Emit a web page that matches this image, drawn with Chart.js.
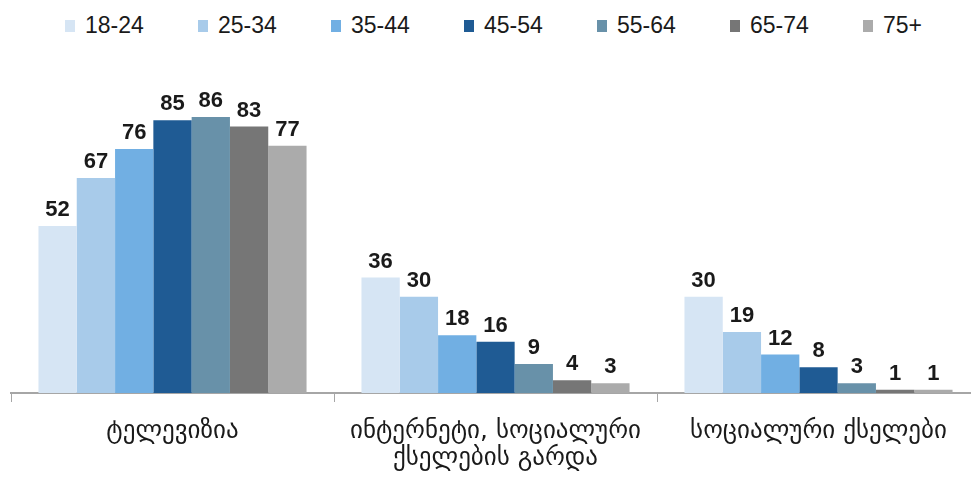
<!DOCTYPE html>
<html lang="ka">
<head>
    <meta charset="UTF-8">
    <title>Media by age</title>
    <script src="https://cdn.jsdelivr.net/npm/chart.js"></script>
    <style>
        body {
            margin: 0;
            width: 971px;
            height: 477px;
            overflow: hidden;
            background: #fff;
            position: relative;
        }
        #legend {
            position: absolute;
            top: 12px;
            left: 65px;
            display: flex;
            font-family: "Liberation Sans Narrow", "Liberation Sans", sans-serif;
            font-size: 23px;
            color: #1a1a1a;
        }
        #legend .item {
            width: 133px;
            display: flex;
            align-items: center;
        }
        #legend .box {
            width: 10px;
            height: 12px;
            margin-right: 10px;
        }
        .chart-wrap {
            position: absolute;
            top: 50px;
            left: 0;
            width: 982px;
            height: 427px;
        }
    </style>
</head>
<body>
    <div id="legend"></div>
    <div class="chart-wrap">
        <canvas id="mediaChart"></canvas>
    </div>

    <script>
        // categories and series
        const categories = [
            'ტელევიზია',
            ['ინტერნეტი, სოციალური', 'ქსელების გარდა'],
            'სოციალური ქსელები'
        ];
        const ageGroups = ['18-24', '25-34', '35-44', '45-54', '55-64', '65-74', '75+'];
        const values = [
            [52, 36, 30],   // 18-24
            [67, 30, 19],   // 25-34
            [76, 18, 12],   // 35-44
            [85, 16, 8],    // 45-54
            [86, 9, 3],     // 55-64
            [83, 4, 1],     // 65-74
            [77, 3, 1]      // 75+
        ];
        const colors = ['#d6e5f4', '#a8cbea', '#71afe3', '#1f5b94', '#6891a9', '#767676', '#ababab'];

        // html legend
        const legendEl = document.getElementById('legend');
        ageGroups.forEach((g, i) => {
            const item = document.createElement('div');
            item.className = 'item';
            item.innerHTML = '<span class="box" style="background:' + colors[i] + '"></span><span>' + g + '</span>';
            legendEl.appendChild(item);
        });

        // value labels above bars
        const barLabels = {
            id: 'barLabels',
            afterDatasetsDraw(chart) {
                const ctx = chart.ctx;
                ctx.save();
                ctx.font = 'bold 22px "Liberation Sans Narrow", "Liberation Sans", sans-serif';
                ctx.fillStyle = '#1a1a1a';
                ctx.textAlign = 'center';
                ctx.textBaseline = 'bottom';
                chart.data.datasets.forEach((ds, i) => {
                    chart.getDatasetMeta(i).data.forEach((bar, j) => {
                        ctx.fillText(ds.data[j], bar.x, bar.y - 5);
                    });
                });
                ctx.restore();
            }
        };

        const ctx = document.getElementById('mediaChart').getContext('2d');
        new Chart(ctx, {
            type: 'bar',
            data: {
                labels: categories,
                datasets: ageGroups.map((g, i) => ({
                    label: g,
                    data: values[i],
                    backgroundColor: colors[i],
                    categoryPercentage: 0.83,
                    barPercentage: 1
                }))
            },
            options: {
                responsive: true,
                maintainAspectRatio: false,
                animation: false,
                layout: {
                    padding: { top: 22, left: 11, right: 2, bottom: 0 }
                },
                plugins: {
                    legend: { display: false },
                    tooltip: { enabled: false }
                },
                scales: {
                    y: {
                        display: false,
                        min: 0,
                        max: 100
                    },
                    x: {
                        afterFit(scale) {
                            scale.height = 84;
                        },
                        border: { display: true, color: '#a6a6a6', width: 2 },
                        grid: {
                            offset: true,
                            drawOnChartArea: false,
                            drawTicks: true,
                            tickLength: 9,
                            color: '#a6a6a6'
                        },
                        ticks: {
                            padding: 16,
                            color: '#1a1a1a',
                            font: { family: '"DejaVu Sans", sans-serif', size: 25, lineHeight: 1.08 }
                        }
                    }
                }
            },
            plugins: [barLabels]
        });
    </script>
</body>
</html>
